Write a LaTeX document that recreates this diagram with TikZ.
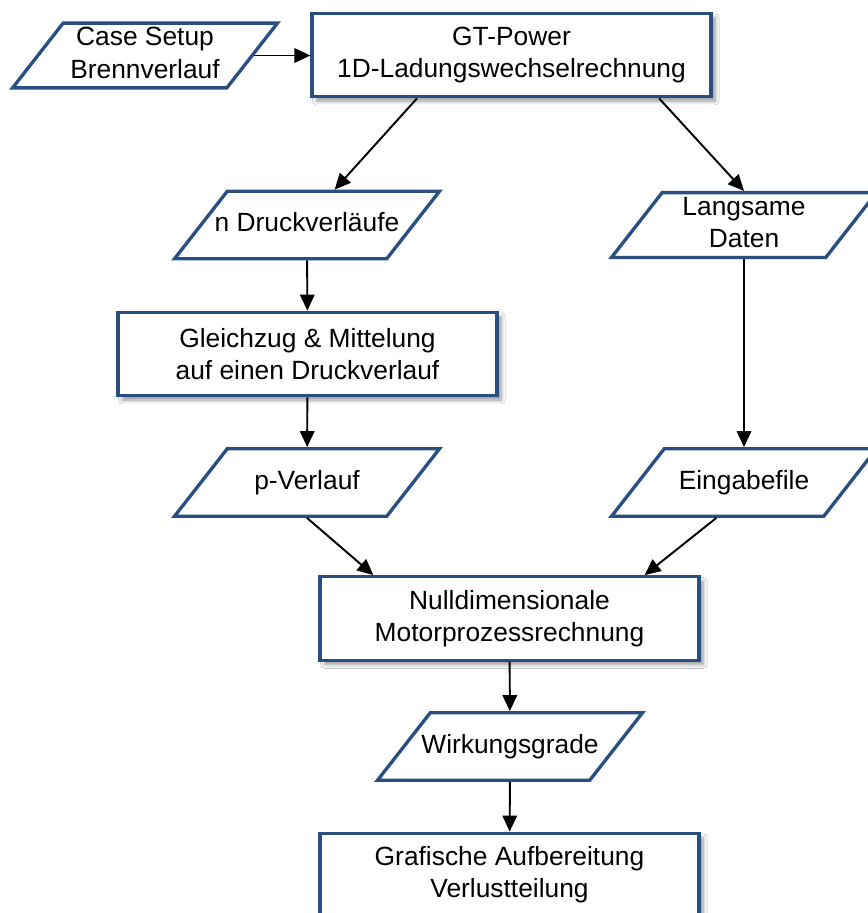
\documentclass[tikz,border=0pt]{standalone}
\usepackage{fontspec}
\setmainfont{Liberation Sans}
\usepackage{tikz}
\usetikzlibrary{arrows.meta,positioning,shapes.geometric,calc,shadows.blur}
\definecolor{flowblue}{RGB}{40,78,130}

\begin{document}
\begin{tikzpicture}[x=0.02cm,y=-0.02cm,>={Triangle[length=0.32cm,width=0.29cm]},
  font=\fontsize{15}{18.4}\selectfont,
  procbox/.style={draw=flowblue,line width=1.9pt,fill=white,minimum width=7.58cm,
    minimum height=1.67cm,align=center,
    blur shadow={shadow xshift=2.5pt,shadow yshift=-2.5pt,shadow blur steps=6}},
  databox/.style={trapezium,trapezium left angle=52,trapezium right angle=128,
    trapezium stretches body,draw=flowblue,line width=1.9pt,fill=white,
    minimum width=5.3cm,inner xsep=-0.27cm,inner ysep=0.42cm,
    text height=11pt,text depth=3.5pt,align=center},
  twoline/.style={text height=29.4pt,text depth=3.5pt,inner ysep=2pt},
  flow/.style={->,line width=1.1pt}]
  \useasboundingbox (0,0) rectangle (867,913);
  \fill[white] (0,0) rectangle (867,913);
  % boxes
  \node[databox,twoline] (case) at (145,55.5) {Case Setup\\Brennverlauf};
  \node[procbox,minimum width=7.98cm] (gtpower) at (511.5,55) {GT-Power\\1D-Ladungswechselrechnung};
  \node[databox] (druck) at (307,225) {n Druckverläufe};
  \node[databox,twoline] (langsam) at (744,225) {Langsame\\Daten};
  \node[procbox] (gleich) at (307.5,354) {Gleichzug \& Mittelung\\auf einen Druckverlauf};
  \node[databox] (pverl) at (307,482.5) {p-Verlauf};
  \node[databox] (eingabe) at (744,482.5) {Eingabefile};
  \node[procbox] (nulld) at (509.5,618.5) {Nulldimensionale\\Motorprozessrechnung};
  \node[databox] (wirk) at (510,746.5) {Wirkungsgrade};
  \node[procbox] (grafik) at (509.5,875) {Grafische Aufbereitung\\Verlustteilung};
  % arrows
  \draw[flow] (case.right side) -- (case.right side -| gtpower.west);
  \draw[flow] ($(gtpower.south west)!0.265!(gtpower.south east)$) -- (druck.top side);
  \draw[flow] ($(gtpower.south west)!0.867!(gtpower.south east)$) -- (langsam.center |- langsam.top side);
  \draw[flow] (druck) -- (gleich);
  \draw[flow] (gleich) -- (pverl);
  \draw[flow] (langsam) -- (eingabe);
  \draw[flow] (pverl.center |- pverl.bottom side) -- ($(nulld.north west)+(55,0)$);
  \draw[flow] (eingabe.bottom side) -- ($(nulld.north east)+(-56,0)$);
  \draw[flow] (nulld) -- (wirk);
  \draw[flow] (wirk) -- (grafik);
\end{tikzpicture}
\end{document}
